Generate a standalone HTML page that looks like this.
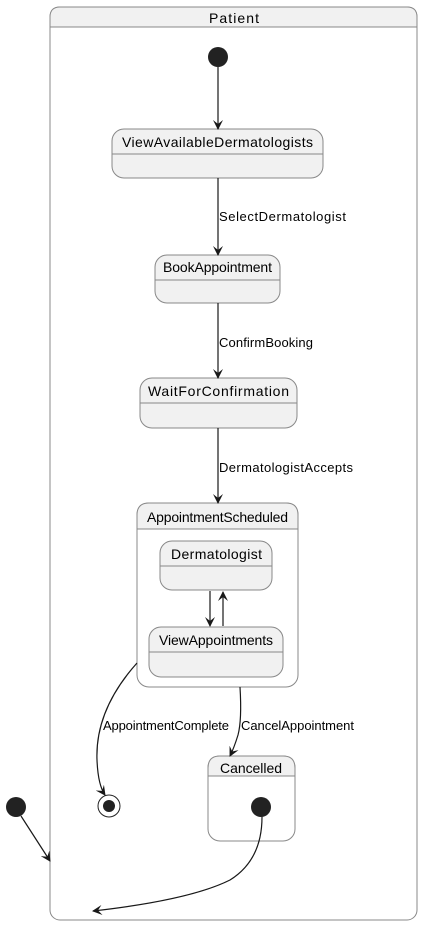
<!DOCTYPE html>
<html><head><style>body{margin:0;background:#fff}svg{display:block}text{font-family:"Liberation Sans",sans-serif;fill:#000}</style></head><body>
<svg width="430" height="926" viewBox="0 0 430 926" xmlns="http://www.w3.org/2000/svg">
<defs><marker id="a" viewBox="0 0 10 10" refX="9" refY="5" markerWidth="10" markerHeight="10" orient="auto" markerUnits="userSpaceOnUse"><path d="M0,0 L10,5 L0,10 L4,5 Z" fill="#181818"/></marker></defs>
<g stroke="#888" stroke-width="1">
<rect x="50" y="7" width="367" height="913" rx="10" fill="#fff"/>
<path d="M50,27 V17 Q50,7 60,7 H407 Q417,7 417,17 V27 Z" fill="#f1f1f1"/>
<rect x="112" y="129" width="211" height="49" rx="12" fill="#f1f1f1"/><line x1="112" y1="154" x2="323" y2="154"/>
<rect x="155" y="255" width="125" height="48" rx="12" fill="#f1f1f1"/><line x1="155" y1="280" x2="280" y2="280"/>
<rect x="140" y="378" width="157" height="50" rx="12" fill="#f1f1f1"/><line x1="140" y1="403" x2="297" y2="403"/>
<rect x="137" y="503" width="161" height="184" rx="12" fill="#fff"/>
<path d="M137,529 V515 Q137,503 149,503 H286 Q298,503 298,515 V529 Z" fill="#f1f1f1"/>
<rect x="160" y="541" width="112" height="49" rx="12" fill="#f1f1f1"/><line x1="160" y1="566" x2="272" y2="566"/>
<rect x="149" y="627" width="134" height="50" rx="12" fill="#f1f1f1"/><line x1="149" y1="652" x2="283" y2="652"/>
<rect x="208" y="756" width="87" height="85" rx="12" fill="#fff"/>
<path d="M208,776 V768 Q208,756 220,756 H283 Q295,756 295,768 V776 Z" fill="#f1f1f1"/>
</g>
<line x1="50" y1="27" x2="417" y2="27" stroke="#888"/>
<line x1="137" y1="529" x2="298" y2="529" stroke="#888"/>
<line x1="208" y1="776" x2="295" y2="776" stroke="#888"/>
<g fill="#222"><circle cx="218" cy="57" r="10"/><circle cx="261" cy="807" r="10"/><circle cx="16" cy="807" r="10"/><circle cx="109" cy="806" r="6"/></g>
<circle cx="109" cy="806" r="11" fill="none" stroke="#222"/>
<g stroke="#181818" stroke-width="1.2" fill="none" marker-end="url(#a)">
<line x1="218" y1="67" x2="218" y2="129"/>
<line x1="218" y1="178" x2="218" y2="255"/>
<line x1="218" y1="303" x2="218" y2="378"/>
<line x1="218" y1="428" x2="218" y2="503"/>
<line x1="210" y1="591" x2="210" y2="626"/>
<line x1="223" y1="626" x2="223" y2="592"/>
<path d="M137,663 Q95,710 97,760 Q98,785 105,795"/>
<path d="M240,687 Q242,720 238,735 Q234,748 230,756"/>
<path d="M262,817 Q262,860 230,880 Q190,900 93,911"/>
<line x1="21" y1="816" x2="50" y2="861"/>
</g>
<g font-size="14" lengthAdjust="spacingAndGlyphs">
<text x="209" y="23" textLength="50">Patient</text>
<text x="122" y="147" textLength="191">ViewAvailableDermatologists</text>
<text x="163" y="272" textLength="109">BookAppointment</text>
<text x="148" y="396" textLength="141">WaitForConfirmation</text>
<text x="147" y="522" textLength="141">AppointmentScheduled</text>
<text x="171" y="559" textLength="91">Dermatologist</text>
<text x="159" y="645" textLength="114">ViewAppointments</text>
<text x="220" y="773" textLength="62">Cancelled</text>
</g>
<g font-size="13">
<text x="219" y="221" textLength="127">SelectDermatologist</text>
<text x="219" y="347" textLength="94">ConfirmBooking</text>
<text x="219" y="472" textLength="134">DermatologistAccepts</text>
<text x="103" y="730" textLength="126">AppointmentComplete</text>
<text x="241" y="730" textLength="113">CancelAppointment</text>
</g>
</svg>
</body></html>
